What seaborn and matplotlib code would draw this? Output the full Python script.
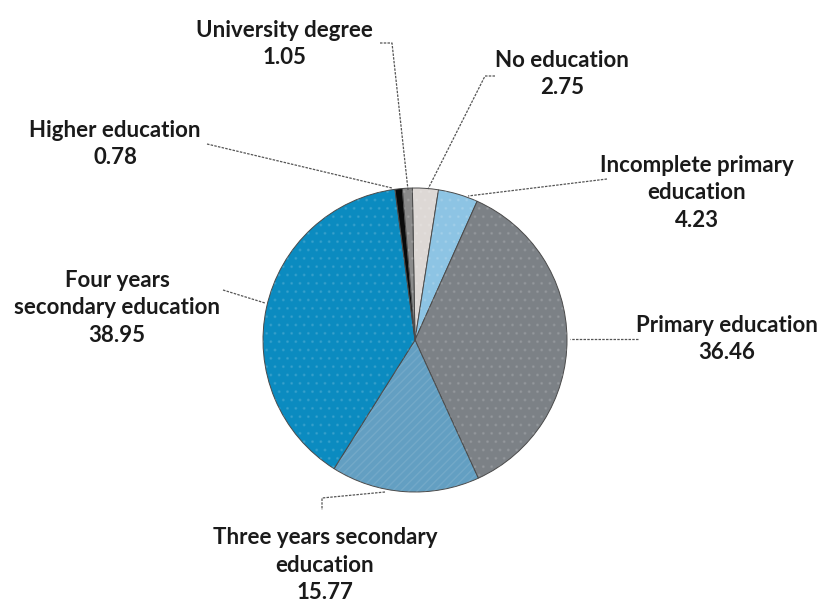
import matplotlib
matplotlib.use("Agg")
import matplotlib.pyplot as plt
import seaborn as sns

sns.set_theme(style="white")
plt.rcParams["font.family"] = ["Lato", "DejaVu Sans"]

categories = [
    "No education",
    "Incomplete primary\neducation",
    "Primary education",
    "Three years secondary\neducation",
    "Four years\nsecondary education",
    "Higher education",
    "University degree",
]
values = [2.75, 4.23, 36.46, 15.77, 38.95, 0.78, 1.05]
colors = ["#ddd8d5", "#8dc4e4", "#7c8186", "#639fc2", "#0b8bc0", "#0a0a0a", "#8a8a8a"]

# label text centres and leader-line vertices (pixel space, origin top-left)
label_pos = [(562, 74), (697, 193), (727, 339), (325, 565), (117, 308), (115, 144), (284, 44)]
leaders = [
    [(495, 76), (485, 76), (428, 189)],
    [(607, 179), (468, 196)],
    [(638, 339), (570, 339)],
    [(385, 492), (322, 498), (322, 510)],
    [(223, 290), (265, 303)],
    [(207, 144), (392, 188)],
    [(380, 43), (392, 43), (408, 190)],
]

W, H = 820, 603
cx, cy, R = 415, 340, 152

fig = plt.figure(figsize=(W / 100, H / 100), dpi=100)
ax = fig.add_axes([0, 0, 1, 1])
ax.axis("off")


def to_data(p):
    return ((p[0] - cx) / R, (cy - p[1]) / R)


ax.pie(values, colors=colors, startangle=91, counterclock=False, radius=1.0,
       center=(0, 0), frame=False,
       wedgeprops=dict(edgecolor="#4a4a4a", linewidth=0.7))

# faint dotted texture on the wedges
texture = ["..", "..", "..", "////", "..", "", ".."]
wedges, _ = ax.pie(values, colors=["none"] * len(values), startangle=91,
                   counterclock=False, radius=1.0, center=(0, 0), frame=False,
                   wedgeprops=dict(linewidth=0))
for w, h in zip(wedges, texture):
    w.set_hatch(h)
    w.set_edgecolor((1, 1, 1, 0.10))

ax.set_xlim(-cx / R, (W - cx) / R)
ax.set_ylim((cy - H) / R, cy / R)
ax.set_aspect("auto")

for cat, v, pos, pts in zip(categories, values, label_pos, leaders):
    x, y = to_data(pos)
    ax.text(x, y, f"{cat}\n{v:.2f}", ha="center", va="center",
            fontsize=16, fontweight="bold", color="#1a1a1a", linespacing=1.38)
    xs, ys = zip(*[to_data(p) for p in pts])
    ax.plot(xs, ys, color="#555555", lw=0.9, ls=(0, (2, 1)))

fig.savefig("out.png", dpi=100)
